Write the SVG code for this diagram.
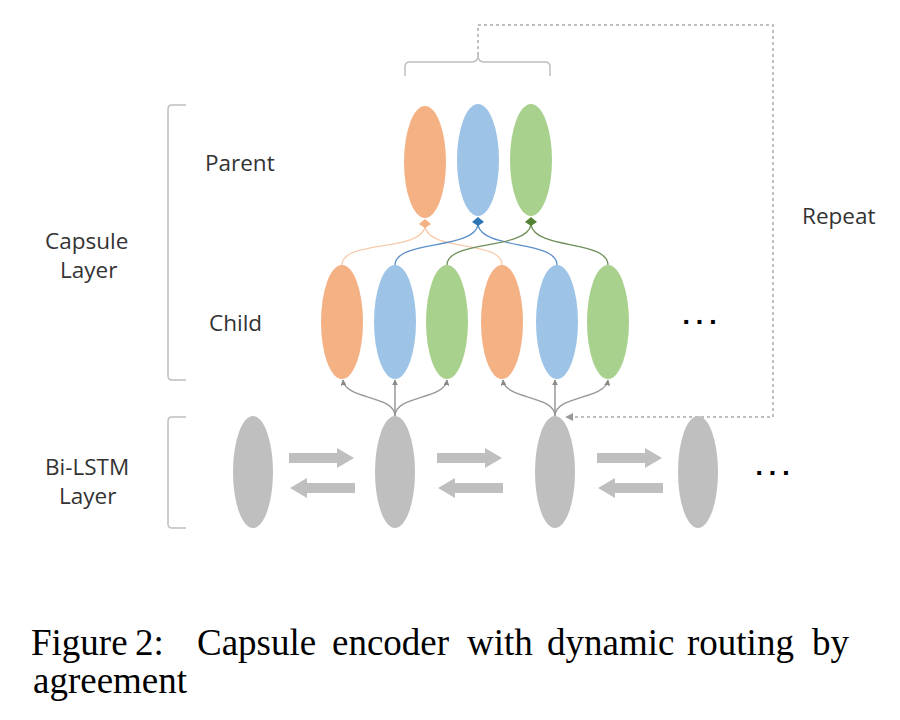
<svg xmlns="http://www.w3.org/2000/svg" width="900" height="720" viewBox="0 0 900 720">
<defs>
<style>
.lbl{font-family:"Open Sans","Noto Sans",sans-serif;font-size:22.5px;fill:#333}
.dots{font-family:"DejaVu Sans",sans-serif;font-size:22px;fill:#000;letter-spacing:5px;font-weight:bold}
.cap{font-family:"Liberation Serif",serif;font-size:37px;fill:#000}
.or{fill:#F4B183}.bl{fill:#9DC3E6}.gr{fill:#A9D18E}.gy{fill:#BFBFBF}
.br{fill:none;stroke:#BFBFBF;stroke-width:1.5}
.ga{fill:none;stroke:#999;stroke-width:1.5;marker-end:url(#ah)}
.dash{fill:none;stroke:#AAA;stroke-width:1.5;stroke-dasharray:3 3}
</style>
<marker id="ah" viewBox="0 0 10 10" refX="9" refY="5" markerWidth="6" markerHeight="6" orient="auto-start-reverse" markerUnits="userSpaceOnUse"><path d="M0,0 L10,5 L0,10 z" fill="#888"/></marker>
<marker id="ahd" viewBox="0 0 10 10" refX="9" refY="5" markerWidth="8" markerHeight="8" orient="auto" markerUnits="userSpaceOnUse"><path d="M0,0 L10,5 L0,10 z" fill="#999"/></marker>
<path id="rarr" d="M0,-5 H48 V-10 L65,0 L48,10 V5 H0 z" fill="#BFBFBF"/>
</defs>
<rect width="900" height="720" fill="#fff"/>

<g id="connectors">
<path d="M342,265 C342,240 420,252 425,227" fill="none" stroke="#F8CBAD" stroke-width="1.3"/>
<path d="M502,265 C502,240 430,252 425,227" fill="none" stroke="#F8CBAD" stroke-width="1.3"/>
<path d="M395,265 C395,240 473,250 478,225" fill="none" stroke="#5B8FC9" stroke-width="1.3"/>
<path d="M557,265 C557,240 483,250 478,225" fill="none" stroke="#5B8FC9" stroke-width="1.3"/>
<path d="M447,265 C447,240 526,250 531,225" fill="none" stroke="#6E8F5A" stroke-width="1.3"/>
<path d="M608,265 C608,240 536,250 531,225" fill="none" stroke="#6E8F5A" stroke-width="1.3"/>
<path d="M419,224 L425,219 L431,224 L425,228 z" fill="#F4B183"/>
<path d="M472,222 L478,217 L484,222 L478,226 z" fill="#2E75B6"/>
<path d="M525,222 L531,217 L537,222 L531,226 z" fill="#548235"/>
<path class="ga" d="M395,416 C395,395 345,400 343,380"/>
<path class="ga" d="M395,416 V380"/>
<path class="ga" d="M395,416 C395,395 445,400 447,380"/>
<path class="ga" d="M555,416 C555,395 505,400 503,380"/>
<path class="ga" d="M555,416 V380"/>
<path class="ga" d="M555,416 C555,395 605,400 608,380"/>
<path class="dash" d="M478,55 V25 H773 V417 H566" marker-end="url(#ahd)"/>
<path class="br" d="M405,76 V67 Q405,62 410,62 H472 Q478,62 478,55 Q478,62 484,62 H545 Q550,62 550,67 V76"/>
<path class="br" d="M186,105 H172 Q168,105 168,109 V376 Q168,380 172,380 H186"/>
<path class="br" d="M186,417 H172 Q168,417 168,421 V524 Q168,528 172,528 H186"/>
<use href="#rarr" transform="translate(289,458)"/>
<use href="#rarr" transform="translate(355,488) scale(-1,1)"/>
<use href="#rarr" transform="translate(437,458)"/>
<use href="#rarr" transform="translate(503,488) scale(-1,1)"/>
<use href="#rarr" transform="translate(597,458)"/>
<use href="#rarr" transform="translate(663,488) scale(-1,1)"/>
</g>

<g id="parent-orange"><ellipse class="or" cx="425" cy="162" rx="21" ry="56"/></g>
<g id="parent-blue"><ellipse class="bl" cx="478" cy="160" rx="21" ry="56"/></g>
<g id="parent-green"><ellipse class="gr" cx="531" cy="160" rx="21" ry="56"/></g>

<g id="child-1"><ellipse class="or" cx="342" cy="322" rx="21" ry="57"/></g>
<g id="child-2"><ellipse class="bl" cx="395" cy="322" rx="21" ry="57"/></g>
<g id="child-3"><ellipse class="gr" cx="447" cy="322" rx="21" ry="57"/></g>
<g id="child-4"><ellipse class="or" cx="502" cy="322" rx="21" ry="57"/></g>
<g id="child-5"><ellipse class="bl" cx="557" cy="322" rx="21" ry="57"/></g>
<g id="child-6"><ellipse class="gr" cx="608" cy="322" rx="21" ry="57"/></g>

<g id="lstm-1"><ellipse class="gy" cx="253" cy="472" rx="20" ry="56"/></g>
<g id="lstm-2"><ellipse class="gy" cx="395" cy="472" rx="20" ry="56"/></g>
<g id="lstm-3"><ellipse class="gy" cx="555" cy="472" rx="20" ry="56"/></g>
<g id="lstm-4"><ellipse class="gy" cx="698" cy="472" rx="20" ry="56"/></g>

<g id="labels">
<text class="lbl" x="205" y="171">Parent</text>
<text class="lbl" x="209" y="331">Child</text>
<text class="lbl" x="45" y="249">Capsule</text>
<text class="lbl" x="60" y="278">Layer</text>
<text class="lbl" x="45" y="475">Bi-LSTM</text>
<text class="lbl" x="59" y="504">Layer</text>
<text class="lbl" x="802" y="224">Repeat</text>
<text class="dots" x="682" y="329">···</text>
<text class="dots" x="755" y="480">···</text>
</g>

<g id="caption">
<text class="cap" y="655"><tspan x="31">Figure</tspan><tspan x="135">2:</tspan><tspan x="197">Capsule</tspan><tspan x="332">encoder</tspan><tspan x="467">with</tspan><tspan x="547">dynamic</tspan><tspan x="687">routing</tspan><tspan x="812">by</tspan></text>
<text class="cap" x="33" y="693">agreement</text>
</g>
</svg>
